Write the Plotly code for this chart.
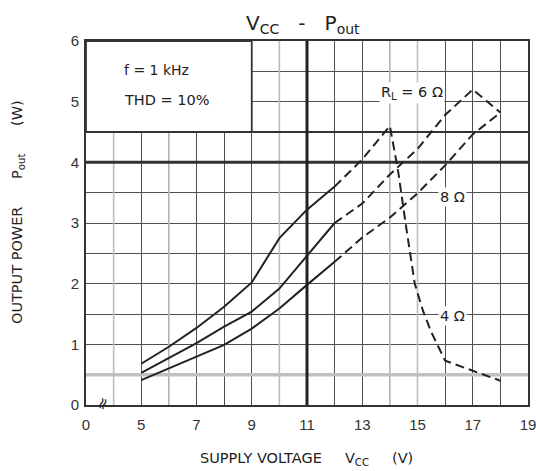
import plotly.graph_objects as go

# ---- data (supply voltage V, output power W) ----
v_solid = [5, 6, 7, 8, 9, 10, 11, 12]
p4_solid = [0.68, 0.96, 1.27, 1.62, 2.02, 2.75, 3.22, 3.60]
p6_solid = [0.53, 0.77, 1.02, 1.29, 1.54, 1.92, 2.46, 3.00]
p8_solid = [0.41, 0.60, 0.80, 0.99, 1.26, 1.59, 1.98, 2.36]

v4_dash = [12, 13, 14, 14.3, 14.6, 14.9, 15.2, 15.5, 16, 17, 18]
p4_dash = [3.60, 4.05, 4.60, 3.85, 2.90, 2.00, 1.55, 1.20, 0.73, 0.56, 0.40]
v6_dash = [12, 13, 14, 15, 16, 17, 18]
p6_dash = [3.00, 3.32, 3.80, 4.22, 4.78, 5.20, 4.82]
v8_dash = [12, 13, 14, 15, 16, 17, 18]
p8_dash = [2.36, 2.76, 3.09, 3.49, 3.95, 4.46, 4.82]

# x axis is broken: position 3 stands for 0 V
x_tickvals = list(range(3, 20))
x_ticktext = ["0", "", "5", "", "7", "", "9", "", "11", "", "13", "", "15", "", "17", "", "19"]
y_tickvals = [i * 0.5 for i in range(13)]
y_ticktext = ["0", "", "1", "", "2", "", "3", "", "4", "", "5", "", "6"]

light_v = [4, 6, 10, 14, 15]
thick_h = [4]

FONT = "DejaVu Sans, Verdana, sans-serif"
TICKFONT = "Liberation Sans, Arial, sans-serif"
INK = "#222"

fig = go.Figure()
line_solid = dict(color=INK, width=2)
line_dash = dict(color=INK, width=2, dash="9px,5px")
for ys in (p4_solid, p6_solid, p8_solid):
    fig.add_trace(go.Scatter(x=v_solid, y=ys, mode="lines", line=line_solid,
                             hoverinfo="skip", showlegend=False))
for xs, ys in ((v4_dash, p4_dash), (v6_dash, p6_dash), (v8_dash, p8_dash)):
    fig.add_trace(go.Scatter(x=xs, y=ys, mode="lines", line=line_dash,
                             hoverinfo="skip", showlegend=False))

shapes = []
# lighter vertical grid lines
for xv in light_v:
    shapes.append(dict(type="line", xref="x", yref="y", x0=xv, x1=xv, y0=0, y1=6,
                       line=dict(color="#bcbcbc", width=1.6), layer="between"))
# light thick line at 0.5 W
shapes.append(dict(type="line", xref="x", yref="y", x0=3, x1=19, y0=0.5, y1=0.5,
                   line=dict(color="#c0c0c0", width=3.5), layer="between"))
# thick lines
for yv in thick_h:
    shapes.append(dict(type="line", xref="x", yref="y", x0=3, x1=19, y0=yv, y1=yv,
                       line=dict(color="#333", width=3), layer="between"))
shapes.append(dict(type="line", xref="x", yref="y", x0=3, x1=19, y0=4.5, y1=4.5,
                   line=dict(color="#333", width=2), layer="between"))
shapes.append(dict(type="line", xref="x", yref="y", x0=11, x1=11, y0=0, y1=6,
                   line=dict(color="#222", width=3), layer="between"))
# white box with conditions
shapes.append(dict(type="rect", xref="x", yref="y", x0=3, x1=9, y0=4.5, y1=6,
                   fillcolor="white", line=dict(color="#333", width=1.8), layer="between"))

ann = []
def txt(x, y, s, size=14, xanchor="center", bg=None, **kw):
    d = dict(x=x, y=y, xref="x", yref="y", text=s, showarrow=False,
             font=dict(family=FONT, size=size, color=INK), xanchor=xanchor, yanchor="middle")
    if bg:
        d["bgcolor"] = bg
        d["borderpad"] = 1
    d.update(kw)
    ann.append(d)

txt(4.3, 5.52, "f = 1 kHz", size=14, xanchor="left")
txt(4.3, 5.02, "THD = 10%", size=14.5, xanchor="left")
txt(14.8, 5.14, "R<sub>L</sub> = 6 Ω", size=14.5, bg="white")
txt(16.25, 3.43, "8 Ω", size=14.5, bg="white")
txt(16.25, 1.46, "4 Ω", size=14.5, bg="white")
txt(3.6, 0.02, "≈", size=16, textangle=-70)

# title and axis titles
ann.append(dict(x=0.491, y=1.048, xref="paper", yref="paper", showarrow=False,
                text="V<sub>CC</sub>   -   P<sub>out</sub>", xanchor="center", yanchor="middle",
                font=dict(family=FONT, size=20, color=INK)))
ann.append(dict(x=0.498, y=-0.148, xref="paper", yref="paper", showarrow=False,
                text="SUPPLY VOLTAGE     V<sub>CC</sub>     (V)", xanchor="center", yanchor="middle",
                font=dict(family=FONT, size=14.5, color=INK)))
ann.append(dict(x=-0.154, y=0.53, xref="paper", yref="paper", showarrow=False,
                text="OUTPUT POWER      P<sub>out</sub>      (W)", xanchor="center", yanchor="middle",
                textangle=-90, font=dict(family=FONT, size=14.5, color=INK)))

fig.update_layout(
    width=536, height=471,
    margin=dict(l=86, r=8, t=41, b=66),
    paper_bgcolor="white", plot_bgcolor="white",
    shapes=shapes, annotations=ann,
    showlegend=False,
)
fig.update_xaxes(range=[3, 19], tickmode="array", tickvals=x_tickvals, ticktext=x_ticktext,
                 showgrid=True, gridcolor="#505050", gridwidth=1.3, zeroline=False,
                 showline=True, mirror=True, linecolor="#333", linewidth=2,
                 ticks="outside", ticklen=5, tickcolor="rgba(0,0,0,0)",
                 ticklabeloverflow="allow",
                 tickfont=dict(family=TICKFONT, size=15, color="#333"), automargin=False)
fig.update_yaxes(range=[0, 6], tickmode="array", tickvals=y_tickvals, ticktext=y_ticktext,
                 showgrid=True, gridcolor="#505050", gridwidth=1.3, zeroline=False,
                 showline=True, mirror=True, linecolor="#333", linewidth=2,
                 ticks="outside", ticklen=2, tickcolor="rgba(0,0,0,0)",
                 tickfont=dict(family=TICKFONT, size=15, color="#333"), automargin=False)

fig.write_html("out.html")
